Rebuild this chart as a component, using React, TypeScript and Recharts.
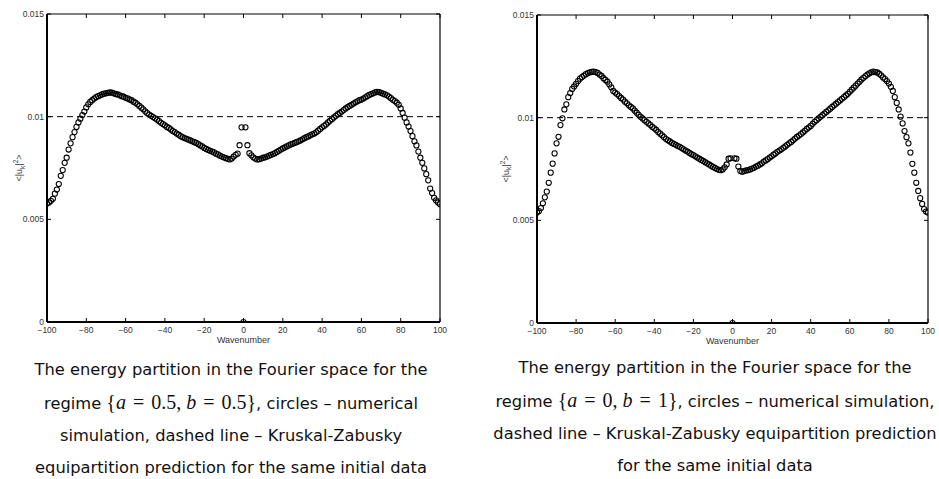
import React from "react";
import { ScatterChart, Scatter, XAxis, YAxis, ReferenceLine } from "recharts";

// wavenumbers run from -100 to 100, one value per integer k
const K_START = -100;
const X_TICKS = [-100, -80, -60, -40, -20, 0, 20, 40, 60, 80, 100];
const Y_TICKS = [0, 0.005, 0.01, 0.015];
const Y_TICK_LABELS: Record<string, string> = { "0": "0", "0.005": "0.005", "0.01": "0.01", "0.015": "0.015" };
const KZ_LEVEL = 0.01; // Kruskal-Zabusky equipartition

// regime {a = 0.5, b = 0.5}
const ENERGY_A = [
  0.00577, 0.00582, 0.0059, 0.006, 0.00625, 0.00645, 0.00672, 0.00712, 0.0074, 0.00775,
  0.008, 0.0084, 0.0087, 0.009, 0.00925, 0.0095, 0.00972, 0.0099, 0.01008, 0.01025,
  0.01045, 0.0106, 0.01072, 0.0108, 0.01088, 0.01095, 0.011, 0.01104, 0.01108, 0.01112,
  0.01114, 0.01116, 0.01118, 0.01117, 0.01114, 0.0111, 0.01108, 0.01104, 0.011, 0.01097,
  0.01092, 0.01089, 0.01084, 0.0108, 0.01073, 0.01068, 0.0106, 0.01052, 0.01044, 0.01036,
  0.01026, 0.01017, 0.0101, 0.01004, 0.00998, 0.00992, 0.00986, 0.00978, 0.0097, 0.00964,
  0.00958, 0.0095, 0.00945, 0.00938, 0.0093, 0.00925, 0.00918, 0.00912, 0.00905, 0.009,
  0.00896, 0.00892, 0.00888, 0.00884, 0.0088, 0.00876, 0.00872, 0.00866, 0.0086, 0.00855,
  0.00848, 0.00843, 0.00838, 0.00834, 0.0083, 0.00826, 0.0082, 0.00816, 0.0081, 0.00806,
  0.00802, 0.00798, 0.00795, 0.00792, 0.00796, 0.00806, 0.00814, 0.0082, 0.00861, 0.00948,
  0, 0.00948, 0.00861, 0.00822, 0.00812, 0.00802, 0.00796, 0.00792, 0.00793, 0.00796,
  0.008, 0.00802, 0.00806, 0.0081, 0.00814, 0.00818, 0.00822, 0.00828, 0.00834, 0.0084,
  0.00845, 0.0085, 0.00855, 0.0086, 0.00865, 0.00868, 0.00872, 0.00876, 0.0088, 0.00884,
  0.0089, 0.00895, 0.009, 0.00904, 0.00909, 0.00914, 0.00918, 0.00924, 0.00932, 0.0094,
  0.00948, 0.00955, 0.00962, 0.00972, 0.0098, 0.00988, 0.00996, 0.01004, 0.01012, 0.01018,
  0.01025, 0.01032, 0.0104, 0.01046, 0.01052, 0.01058, 0.01064, 0.0107, 0.01075, 0.0108,
  0.01083, 0.01088, 0.01094, 0.011, 0.01106, 0.0111, 0.01114, 0.01118, 0.01121, 0.01119,
  0.01116, 0.01112, 0.01108, 0.01104, 0.01098, 0.0109, 0.01082, 0.01076, 0.01068, 0.01058,
  0.0104, 0.01018, 0.00995, 0.00972, 0.00952, 0.0093, 0.00905, 0.0088, 0.0086, 0.0083,
  0.008, 0.00775, 0.00748, 0.0072, 0.0069, 0.0065, 0.00628, 0.00605, 0.00592, 0.00582,
  0.00574,
];

// regime {a = 0, b = 1}
const ENERGY_B = [
  0.00538, 0.00545, 0.0056, 0.00583, 0.00612, 0.0064, 0.00683, 0.00732, 0.00776, 0.00826,
  0.00875, 0.00907, 0.00964, 0.00997, 0.0104, 0.01065, 0.011, 0.0112, 0.0114, 0.01152,
  0.01165, 0.01178, 0.0119, 0.01198, 0.01205, 0.01212, 0.01217, 0.0122, 0.01223, 0.01224,
  0.01222, 0.01218, 0.0121, 0.01203, 0.01192, 0.01184, 0.01175, 0.01162, 0.01148, 0.0113,
  0.01122, 0.01115, 0.01105, 0.01096, 0.01088, 0.01078, 0.0107, 0.0106, 0.01052, 0.01045,
  0.01034, 0.01024, 0.01014, 0.01004, 0.00996, 0.00988, 0.0098, 0.00972, 0.00964, 0.00955,
  0.00948, 0.0094, 0.0093, 0.00922, 0.00914, 0.00905, 0.00896, 0.0089, 0.00884, 0.00877,
  0.00872, 0.00868, 0.00862, 0.00858, 0.00852, 0.00846, 0.0084, 0.00835, 0.00828, 0.00822,
  0.00818, 0.00812, 0.00806, 0.008, 0.00794, 0.00789, 0.00783, 0.00778, 0.00772, 0.00766,
  0.0076, 0.00755, 0.0075, 0.00746, 0.00744, 0.00748, 0.00758, 0.00772, 0.008, 0.00802,
  0, 0.00802, 0.008, 0.00762, 0.0074, 0.00737, 0.0074, 0.00743, 0.00745, 0.00748,
  0.00752, 0.00756, 0.00762, 0.00766, 0.00772, 0.00778, 0.00786, 0.00792, 0.00798, 0.00806,
  0.00812, 0.0082, 0.00826, 0.00834, 0.0084, 0.00846, 0.00853, 0.0086, 0.00868, 0.00875,
  0.00882, 0.0089, 0.00898, 0.00906, 0.00913, 0.0092, 0.00928, 0.00936, 0.00945, 0.00952,
  0.0096, 0.0097, 0.0098, 0.00988, 0.00996, 0.01004, 0.01012, 0.0102, 0.01028, 0.01036,
  0.01044, 0.01052, 0.0106, 0.01068, 0.01076, 0.01084, 0.01092, 0.011, 0.01108, 0.01116,
  0.01126, 0.01136, 0.01146, 0.01156, 0.01166, 0.01175, 0.01186, 0.01194, 0.01202, 0.0121,
  0.01216, 0.01221, 0.01224, 0.01222, 0.0122, 0.01214, 0.01206, 0.01196, 0.01188, 0.01178,
  0.01166, 0.0115, 0.0113, 0.011, 0.01072, 0.0104, 0.01005, 0.00972, 0.00935, 0.00905,
  0.00875, 0.0083, 0.00775, 0.00732, 0.00683, 0.00643, 0.00608, 0.0058, 0.00555, 0.00543,
  0.00538,
];

const TICK_FONT = { fontSize: 8.5, fill: "#333", fontFamily: "Liberation Sans, Arial, sans-serif" };

const Ring = (props: any) => (
  <circle cx={props.cx} cy={props.cy} r={2.6} fill="none" stroke="#000" strokeWidth={1.05} />
);

const fmtX = (v: number) => String(v).replace("-", "\u2212");
const fmtY = (v: number) => Y_TICK_LABELS[String(v)] ?? String(v);
const blank = () => "";

interface PanelProps {
  values: number[];
  left: number;
  width: number;
  margin: { top: number; right: number; bottom: number; left: number };
  labelX: number;
}

function Panel({ values, left, width, margin, labelX }: PanelProps) {
  const data = values.map((v, i) => ({ k: K_START + i, v }));

  const yLabel = (p: any) => {
    const vb = p.viewBox ?? {};
    const cy = (vb.y ?? 0) + (vb.height ?? 0) / 2;
    return (
      <text
        x={labelX}
        y={cy}
        transform={`rotate(-90 ${labelX} ${cy})`}
        textAnchor="middle"
        fontSize={9}
        fill="#333"
        fontFamily="Liberation Sans, Arial, sans-serif"
      >
        <tspan>&lt;|u</tspan>
        <tspan fontSize={6.5} dy={2.5}>k</tspan>
        <tspan dy={-2.5}>|</tspan>
        <tspan fontSize={6.5} dy={-4}>2</tspan>
        <tspan dy={4}>&gt;</tspan>
      </text>
    );
  };

  const xLabel = (p: any) => {
    const vb = p.viewBox ?? {};
    return (
      <text
        x={(vb.x ?? 0) + (vb.width ?? 0) / 2}
        y={(vb.y ?? 0) + 21}
        textAnchor="middle"
        fontSize={9}
        fill="#333"
        fontFamily="Liberation Sans, Arial, sans-serif"
      >
        Wavenumber
      </text>
    );
  };

  return (
    <div style={{ position: "absolute", left, top: 0 }}>
      <ScatterChart width={width} height={350} margin={margin}>
        <XAxis
          xAxisId="b"
          type="number"
          dataKey="k"
          domain={[-100, 100]}
          ticks={X_TICKS}
          allowDataOverflow
          height={26}
          tickSize={-4}
          tickMargin={8.5}
          tick={TICK_FONT}
          tickFormatter={fmtX}
          axisLine={{ stroke: "#000", strokeWidth: 2 }}
          tickLine={{ stroke: "#000" }}
          label={xLabel}
        />
        <XAxis
          xAxisId="t"
          orientation="top"
          type="number"
          dataKey="k"
          domain={[-100, 100]}
          ticks={X_TICKS}
          allowDataOverflow
          height={1}
          tickSize={-4}
          tick={TICK_FONT}
          tickFormatter={blank}
          axisLine={{ stroke: "#000", strokeWidth: 1.2 }}
          tickLine={{ stroke: "#000" }}
        />
        <YAxis
          yAxisId="l"
          type="number"
          dataKey="v"
          domain={[0, 0.015]}
          ticks={Y_TICKS}
          allowDataOverflow
          width={40}
          tickSize={-4}
          tickMargin={7}
          tick={TICK_FONT}
          tickFormatter={fmtY}
          axisLine={{ stroke: "#000", strokeWidth: 2 }}
          tickLine={{ stroke: "#000" }}
          label={yLabel}
        />
        <YAxis
          yAxisId="r"
          orientation="right"
          type="number"
          dataKey="v"
          domain={[0, 0.015]}
          ticks={Y_TICKS}
          allowDataOverflow
          width={1}
          tickSize={-4}
          tick={TICK_FONT}
          tickFormatter={blank}
          axisLine={{ stroke: "#000", strokeWidth: 1.2 }}
          tickLine={{ stroke: "#000" }}
        />
        <ReferenceLine
          xAxisId="b"
          yAxisId="l"
          y={KZ_LEVEL}
          stroke="#000"
          strokeWidth={1}
          strokeDasharray="6 4"
        />
        <Scatter
          xAxisId="b"
          yAxisId="l"
          data={data}
          shape={Ring}
          isAnimationActive={false}
        />
      </ScatterChart>
    </div>
  );
}

const SANS = "DejaVu Sans, sans-serif";
const SERIF = "Liberation Serif, serif";

const Eq = () => <span style={{ margin: "0 7px" }}>=</span>;

function MathSet({ a, b }: { a: string; b: string }) {
  return (
    <span style={{ fontFamily: SERIF, fontSize: 20 }}>
      {"{"}
      <i>a</i>
      <Eq />
      {a},<span style={{ marginLeft: 5 }} />
      <i>b</i>
      <Eq />
      {b}
      {"}"}
    </span>
  );
}

function Caption({ center, top, lines }: { center: number; top: number; lines: React.ReactNode[] }) {
  return (
    <div
      style={{
        position: "absolute",
        left: center - 300,
        top,
        width: 600,
        textAlign: "center",
        fontFamily: SANS,
        fontSize: 16.3,
        lineHeight: "32px",
        color: "#111",
        whiteSpace: "nowrap",
      }}
    >
      {lines.map((l, i) => (
        <div key={i}>{l}</div>
      ))}
    </div>
  );
}

export default function App() {
  return (
    <div
      style={{
        position: "absolute",
        left: 0,
        top: 0,
        width: 939,
        height: 479,
        overflow: "hidden",
        background: "#fff",
      }}
    >
      <Panel
        values={ENERGY_A}
        left={0}
        width={470}
        margin={{ top: 13, right: 29, bottom: 2, left: 7 }}
        labelX={22}
      />
      <Panel
        values={ENERGY_B}
        left={470}
        width={469}
        margin={{ top: 14, right: 10, bottom: 1, left: 27 }}
        labelX={38.5}
      />
      <Caption
        center={231}
        top={354}
        lines={[
          "The energy partition in the Fourier space for the",
          <>
            regime <MathSet a="0.5" b="0.5" />, circles – numerical
          </>,
          "simulation, dashed line – Kruskal-Zabusky",
          "equipartition prediction for the same initial data",
        ]}
      />
      <Caption
        center={715}
        top={352}
        lines={[
          "The energy partition in the Fourier space for the",
          <>
            regime <MathSet a="0" b="1" />, circles – numerical simulation,
          </>,
          "dashed line – Kruskal-Zabusky equipartition prediction",
          "for the same initial data",
        ]}
      />
    </div>
  );
}
